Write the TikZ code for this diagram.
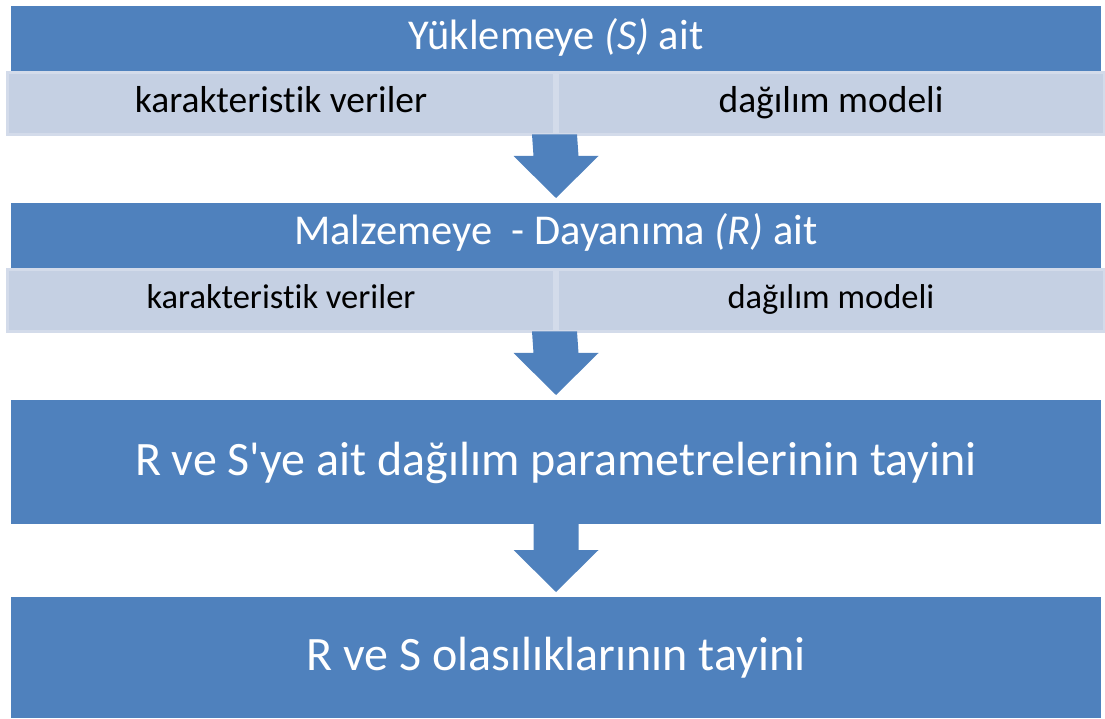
\documentclass[tikz,border=0pt]{standalone}
\usepackage{fontspec}
\setmainfont[Ligatures={NoCommon}]{Carlito}
\usetikzlibrary{calc}
\definecolor{barblue}{HTML}{4F81BD}
\definecolor{cellfill}{HTML}{C5D0E3}
\definecolor{cellline}{HTML}{D3DBEA}
\newcommand\headfont{\fontsize{42.5}{50}\selectfont}
\newcommand\cellfont{\fontsize{37.5}{44}\selectfont}
\newcommand\bigfont{\fontsize{48}{56}\selectfont}
% block arrow from the bottom of one box to the top of the next
\newcommand\blockdown[2]{%
  \fill[barblue] ($(#1)+(-22.5,0)$) -- ($(#1)+(22.5,0)$) -- ($(#2)+(22.5,47)$)
    -- ($(#2)+(42.5,47)$) -- ($(#2)+(0,5)$) -- ($(#2)+(-42.5,47)$)
    -- ($(#2)+(-22.5,47)$) -- cycle;}
\begin{document}
\begin{tikzpicture}[x=1pt,y=1pt,
	bar/.style={fill=barblue, text=white, minimum width=1090pt, minimum height=65pt, inner sep=0pt, outer sep=0pt, anchor=north, font=\headfont, text height=31.5pt, text depth=8.5pt},
	bigbar/.style={bar, minimum height=124pt, font=\bigfont, text height=35pt, text depth=9pt},
	cell/.style={fill=cellfill, draw=cellline, line width=2.5pt, minimum width=547pt, minimum height=62pt, inner sep=0pt, outer sep=0pt, anchor=north west, font=\cellfont, text height=27pt, text depth=8pt}]
	
	\useasboundingbox (0,0) rectangle (1105,718);
	
	\node [bar] (load) at (556,712) {Yüklemeye \textit{(S)} ait};
	\node [cell] (loaddata) at (7.5,645.5) {karakteristik veriler};
	\node [cell] (loadmodel) at (557.5,645.5) {dağılım modeli};
	
	\node [bar, text height=27.5pt] (mat) at (556,515) {Malzemeye\ \ - Dayanıma \textit{(R)} ait};
	\node [cell, font=\fontsize{34.5}{40}\selectfont, text height=24pt] (matdata) at (7.5,448.5) {karakteristik veriler};
	\node [cell, font=\fontsize{34.5}{40}\selectfont, text height=24pt] (matmodel) at (557.5,448.5) {dağılım modeli};
	
	\node [bigbar] (param) at (556,318) {R ve S\textquotesingle ye ait dağılım parametrelerinin tayini};
	\node [bigbar, minimum height=121pt] (prob) at (556,121) {R ve S olasılıklarının tayini};
	
	\blockdown{loaddata.south east}{mat.north}
	\blockdown{matdata.south east}{param.north}
	\blockdown{param.south}{prob.north}
\end{tikzpicture}
\end{document}
